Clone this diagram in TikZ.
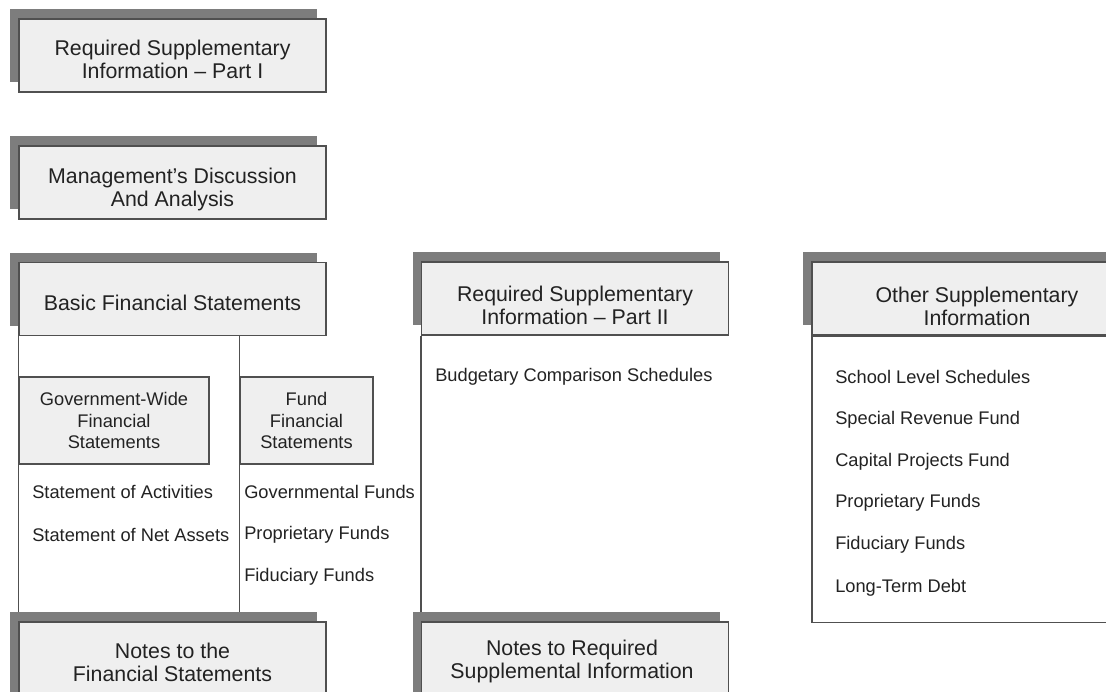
\documentclass[tikz,border=0pt]{standalone}
\usepackage{fontspec}
\setmainfont{Liberation Sans}
\usetikzlibrary{shadows,calc}
\definecolor{shd}{HTML}{7D7D7D}
\definecolor{boxfill}{HTML}{EFEFEF}
\definecolor{ln}{HTML}{505050}
\definecolor{txt}{HTML}{222222}
\pgfdeclarelayer{bg}
\pgfsetlayers{bg,main}
\begin{document}
\begin{tikzpicture}[x=0.75pt,y=-0.75pt,
  mainbox/.style={draw=ln, line width=0.9pt, fill=boxfill, minimum width=230.25pt,
    minimum height=54.75pt, inner sep=0pt,
    general shadow={shadow xshift=-6.75pt, shadow yshift=7.5pt, fill=shd}},
  hdr/.style={font=\fontsize{16}{17.25}\selectfont, text=txt, align=center, inner sep=0pt},
  subbox/.style={draw=ln, line width=0.9pt, fill=boxfill, inner sep=0pt,
    font=\fontsize{13.7}{16}\selectfont, text=txt, align=center, minimum height=65.25pt},
  item/.style={font=\fontsize{13.7}{16}\selectfont, text=txt, anchor=west, inner sep=0pt},
  conn/.style={draw=ln, line width=0.9pt},
  plainbox/.style={draw=ln, line width=0.9pt, inner sep=0pt}]
\useasboundingbox (0,0) rectangle (1106,692);
\clip (0,0) rectangle (1106,692);

% top boxes
\node[mainbox] (rsi1) at (172.5,55.5) {};
\node[hdr] (rsi1t) at (172.5,59) {Required Supplementary\\Information – Part I};
\node[mainbox] (mda) at (172.5,182.5) {};
\node[hdr] (mdat) at (172.5,189) {Management’s Discussion\\And Analysis};

% column headers
\node[mainbox] (bfs) at (172.5,299) {};
\node[hdr] (bfst) at (172.5,303) {Basic Financial Statements};
\node[mainbox] (rsi2) at (575,298.5) {};
\node[hdr] (rsi2t) at (575,305) {Required Supplementary\\Information – Part II};
\node[mainbox, minimum width=247.5pt] (osi) at (977,298.5) {};
\node[hdr] (osit) at (977,306) {Other Supplementary\\Information};
\node[plainbox, minimum width=247.5pt, minimum height=214.5pt, anchor=north] (osib) at (osi.south) {};

% notes boxes
\node[mainbox, minimum height=60pt] (nfs) at (172.5,662) {};
\node[hdr] (nfst) at (172.5,662) {Notes to the\\Financial Statements};
\node[mainbox, minimum height=60pt] (nrsi) at (575,662) {};
\node[hdr] (nrsit) at (572,661) {Notes to Required\\Supplemental Information};

% sub boxes
\node[subbox, minimum width=142.5pt] (gov) at (114,420.5) {Government-Wide\\Financial\\Statements};
\node[subbox, minimum width=99.75pt] (fund) at (306.5,420.5) {Fund\\Financial\\Statements};

% connectors
\begin{pgfonlayer}{bg}
\draw[conn] (bfs.south west) -- (nfs.north west);
\draw[conn] (fund.west |- bfs.south) -- (fund.west |- nfs.north);
\draw[conn] (rsi2.south west) -- (nrsi.north west);
\end{pgfonlayer}

% items
\node[item] (sa) at (32,492) {Statement of Activities};
\node[item] (sna) at (32,535) {Statement of Net Assets};
\node[item] (gf) at (244,492) {Governmental Funds};
\node[item] (pf) at (244,535) {Proprietary Funds};
\node[item] (ff) at (244,577) {Fiduciary Funds};
\node[item] (bcs) at (435,377) {Budgetary Comparison Schedules};
\node[item] (sls) at (835,377) {School Level Schedules};
\node[item] (srf) at (835,420) {Special Revenue Fund};
\node[item] (cpf) at (835,462) {Capital Projects Fund};
\node[item] (opf) at (835,503) {Proprietary Funds};
\node[item] (off) at (835,545) {Fiduciary Funds};
\node[item] (ltd) at (835,588) {Long-Term Debt};
\end{tikzpicture}
\end{document}
